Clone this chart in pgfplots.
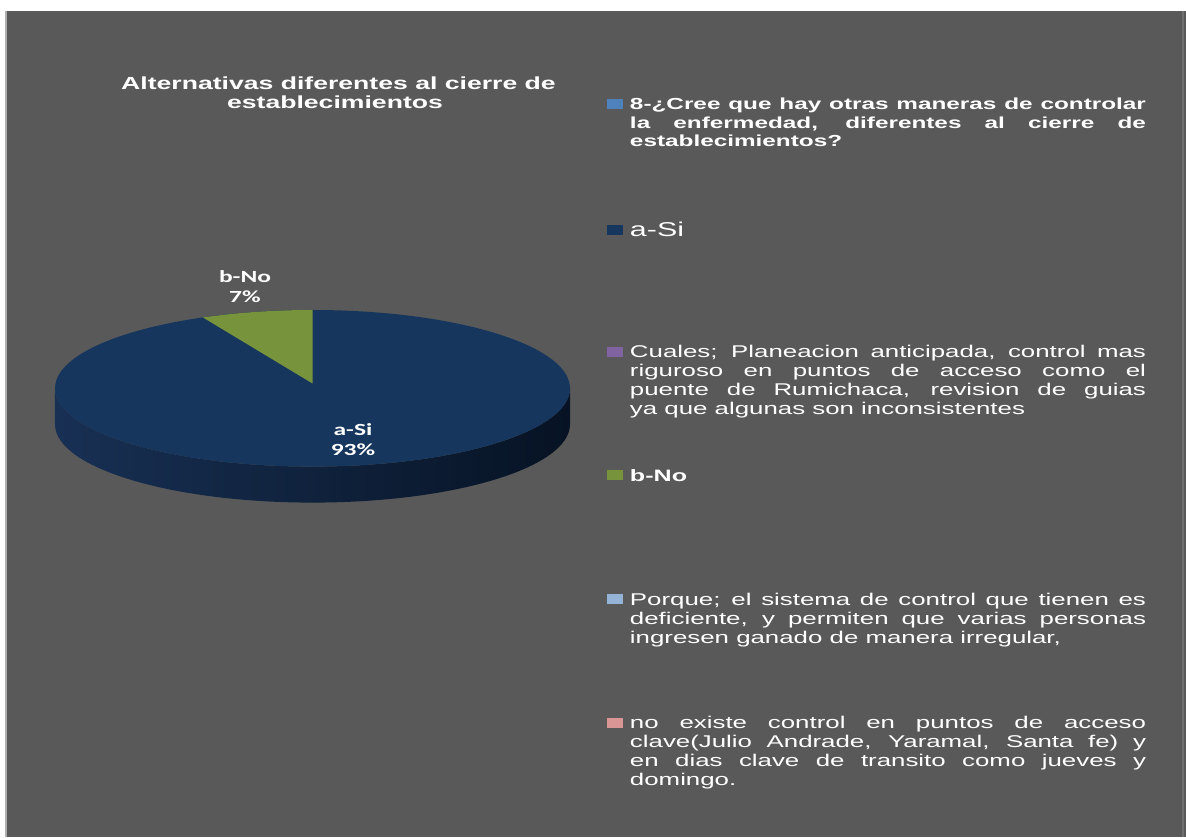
\documentclass[border=0pt]{standalone}
\usepackage{pgfplots}
\pgfplotsset{compat=1.18}
\usepackage{pgfplotstable}
\usepackage{fontspec}
\setmainfont{Liberation Sans}
\newfontfamily\legfont{Liberation Sans}[FakeStretch=1.52]
\newfontfamily\lblfont{Carlito}[FakeStretch=1.5]
\definecolor{bg}{RGB}{89,89,89}
\definecolor{navy}{RGB}{23,54,93}
\definecolor{olive}{RGB}{119,147,60}
\definecolor{c1}{RGB}{79,129,189}
\definecolor{c2}{RGB}{23,54,93}
\definecolor{c3}{RGB}{128,100,162}
\definecolor{c4}{RGB}{119,147,60}
\definecolor{c5}{RGB}{149,179,215}
\definecolor{c6}{RGB}{217,150,148}
\definecolor{sideL}{RGB}{24,48,84}
\definecolor{sideM}{RGB}{14,33,60}
\definecolor{sideR}{RGB}{7,19,36}
\definecolor{edgeL}{RGB}{175,175,175}
\definecolor{edgeR}{RGB}{112,112,112}

\pgfplotstableread{
label value
a-Si 93
b-No 7
}\piedata

\newcommand\legtext[3]{\parbox[t][#1][t]{516bp}{\tolerance=10000\hbadness=10000\hyphenpenalty=10000 #2#3}}

\begin{document}
\begin{tikzpicture}
\pgfplotstablegetelem{0}{value}\of\piedata \pgfmathsetmacro\vSi{\pgfplotsretval}
\pgfplotstablegetelem{1}{value}\of\piedata \pgfmathsetmacro\vNo{\pgfplotsretval}
\pgfmathsetmacro\aNo{90+360*\vNo/(\vSi+\vNo)}
\pgfmathtruncatemacro\pSi{round(100*\vSi/(\vSi+\vNo))}
\pgfmathtruncatemacro\pNo{round(100*\vNo/(\vSi+\vNo))}
\begin{axis}[
  scale only axis, width=1186bp, height=837bp,
  xmin=0, xmax=1186, ymin=0, ymax=837,
  enlargelimits=false, hide axis, clip=false,
  legend image code/.code={\fill[#1] (0bp,1bp) rectangle (16bp,11bp);},
  legend style={at={(0.51180,0.88244)}, anchor=north west,
    fill=none, draw=none, inner sep=0pt, outer sep=0pt,
    cells={anchor=base west},
    nodes={inner sep=0pt, text depth=, text=white},
    column sep=7bp, row sep=0pt},
]
% background
\fill[white] (axis cs:0,0) rectangle (axis cs:1186,837);
\fill[bg] (axis cs:6,0) rectangle (axis cs:1186,826);
\fill[edgeL] (axis cs:5,0) rectangle (axis cs:7,826);
\fill[edgeR] (axis cs:1182,0) rectangle (axis cs:1184,826);

% pie side (front)
\shade[left color=sideL, middle color=sideM, right color=sideR]
  (axis cs:55,448.7) arc[start angle=180, end angle=360, x radius=257.5bp, y radius=78.3bp]
  -- (axis cs:570,412.7) arc[start angle=0, end angle=-180, x radius=257.5bp, y radius=78.3bp]
  -- cycle;
% pie top: a-Si
\fill[navy] (axis cs:312.5,448.7) ellipse[x radius=257.5bp, y radius=78.3bp];
% pie top: b-No
\fill[olive] (axis cs:312.5,453.5) -- (axis cs:312.5,527)
  arc[start angle=90, end angle=\aNo, x radius=257.5bp, y radius=78.3bp] -- cycle;

% data labels
\node[text=white, anchor=base, inner sep=0pt, font={\lblfont\bfseries\fontsize{17bp}{20bp}\selectfont}] at (axis cs:245,554.7) {b-No};
\node[text=white, anchor=base, inner sep=0pt, font={\lblfont\bfseries\fontsize{17bp}{20bp}\selectfont}] at (axis cs:245,534.3) {\pNo\%};
\node[text=white, anchor=base, inner sep=0pt, font={\lblfont\bfseries\fontsize{17bp}{20bp}\selectfont}] at (axis cs:353,401) {a-Si};
\node[text=white, anchor=base, inner sep=0pt, font={\lblfont\bfseries\fontsize{17bp}{20bp}\selectfont}] at (axis cs:353,381) {\pSi\%};

% title
\node[text=white, anchor=base, inner sep=0pt, font={\legfont\bfseries\fontsize{17.5bp}{19bp}\selectfont}] at (axis cs:338.5,747.5) {Alternativas diferentes al cierre de};
\node[text=white, anchor=base, inner sep=0pt, font={\legfont\bfseries\fontsize{17.5bp}{19bp}\selectfont}] at (axis cs:335,728.5) {establecimientos};

% legend
\addlegendimage{fill=c1, draw=none}
\addlegendentry{\legtext{123.6bp}{\legfont\bfseries\fontsize{16bp}{18.3bp}\selectfont}{8-¿Cree que hay otras maneras de controlar\linebreak la enfermedad, diferentes al cierre de\linebreak establecimientos?}}
\addlegendimage{fill=c2, draw=none}
\addlegendentry{\legtext{123.6bp}{\legfont\fontsize{20bp}{22bp}\selectfont}{a-Si}}
\addlegendimage{fill=c3, draw=none}
\addlegendentry{\legtext{123.6bp}{\legfont\fontsize{17bp}{19bp}\selectfont}{Cuales; Planeacion anticipada, control mas\linebreak riguroso en puntos de acceso como el\linebreak puente de Rumichaca, revision de guias\linebreak ya que algunas son inconsistentes}}
\addlegendimage{fill=c4, draw=none}
\addlegendentry{\legtext{123.6bp}{\legfont\bfseries\fontsize{16.5bp}{19bp}\selectfont}{b-No}}
\addlegendimage{fill=c5, draw=none}
\addlegendentry{\legtext{123.6bp}{\legfont\fontsize{17bp}{19bp}\selectfont}{Porque; el sistema de control que tienen es\linebreak deficiente, y permiten que varias personas\linebreak ingresen ganado de manera irregular,}}
\addlegendimage{fill=c6, draw=none}
\addlegendentry{\parbox[t]{516bp}{\tolerance=10000\hbadness=10000\hyphenpenalty=10000 \legfont\fontsize{17bp}{19bp}\selectfont no existe control en puntos de acceso\linebreak clave(Julio Andrade, Yaramal, Santa fe) y\linebreak en dias clave de transito como jueves y\linebreak domingo.}}
\end{axis}
\end{tikzpicture}
\end{document}
